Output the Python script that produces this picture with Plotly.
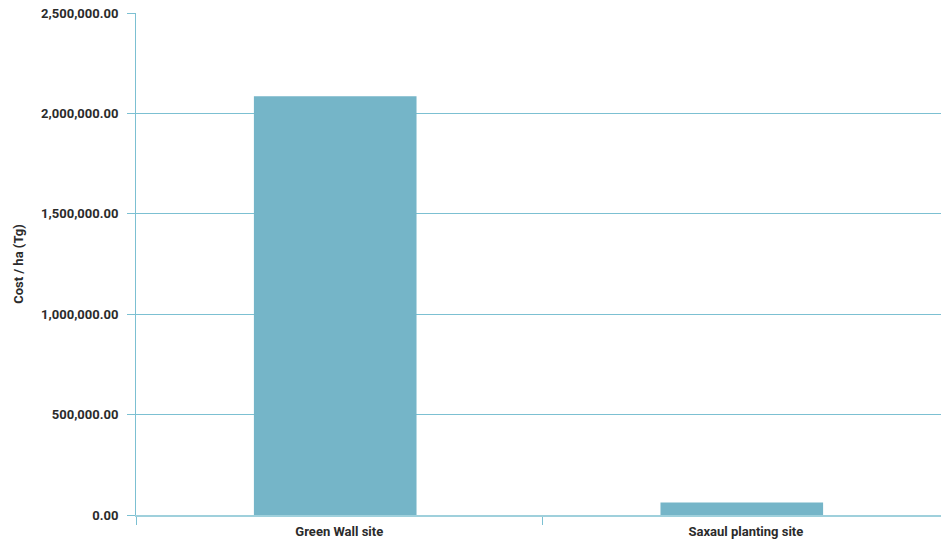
import plotly.graph_objects as go

categories = ["Green Wall site", "Saxaul planting site"]
cost_per_ha = [2086000, 62000]
y_tick_values = [0, 500000, 1000000, 1500000, 2000000, 2500000]
y_tick_labels = ["0.00", "500,000.00", "1,000,000.00", "1,500,000.00", "2,000,000.00", "2,500,000.00"]

font_family = "Roboto, Liberation Sans, sans-serif"
line_col = "#7cc0d2"
txt_col = "#2b2b2b"

fig = go.Figure(go.Bar(
    x=categories, y=cost_per_ha,
    marker=dict(color="#75b5c8", line=dict(width=0)),
    width=0.40, offset=-0.21,
))

fig.update_layout(
    width=941, height=544,
    margin=dict(l=136, r=0, t=13, b=29, autoexpand=False),
    plot_bgcolor="white", paper_bgcolor="white",
    font=dict(family=font_family, size=13, color=txt_col),
    showlegend=False,
)
fig.update_xaxes(
    type="category", range=[-0.5, 1.48],
    tickson="boundaries", ticks="outside", ticklen=8, tickcolor=line_col,
    showline=True, linecolor="#9fd0dc", linewidth=2,
    showgrid=False, automargin=False, ticklabelstandoff=3,
    tickfont=dict(family=font_family, size=13, color=txt_col, weight="bold"),
)
fig.update_yaxes(
    range=[0, 2500000],
    tickvals=y_tick_values, ticktext=y_tick_labels,
    ticks="outside", ticklen=8, tickcolor=line_col,
    showline=True, linecolor=line_col, linewidth=1,
    showgrid=True, gridcolor=line_col, gridwidth=1,
    zeroline=False, automargin=False, ticklabelstandoff=6,
    tickfont=dict(family=font_family, size=13, color=txt_col, weight="bold"),
    title=dict(text="Cost / ha (Tg)", standoff=14,
               font=dict(family=font_family, size=13, color=txt_col, weight="bold")),
)

fig.write_html("out.html", config={"displayModeBar": False},
               post_script="document.body.style.margin='0';")
